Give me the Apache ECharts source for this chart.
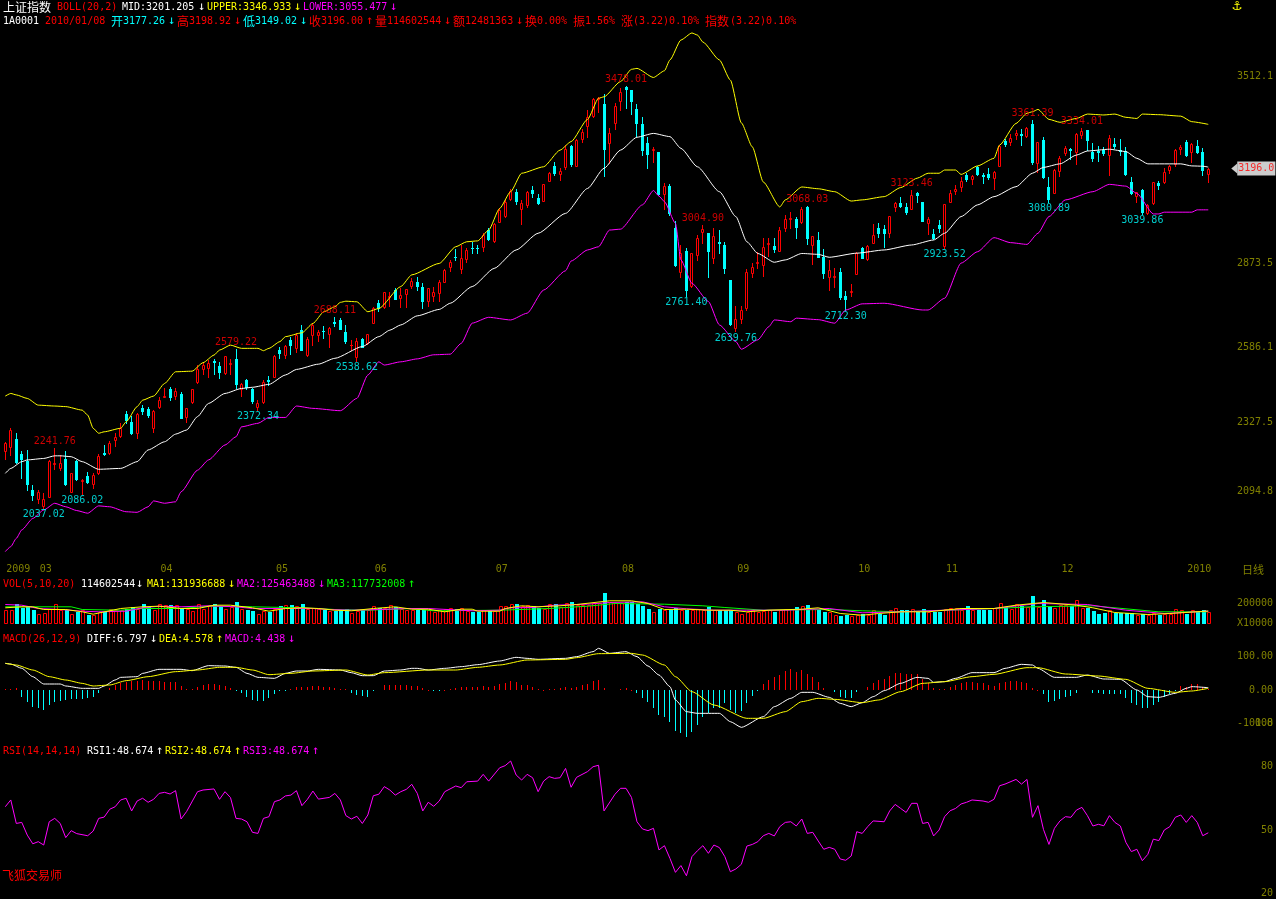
<!DOCTYPE html>
<html><head><meta charset="utf-8">
<style>html,body{margin:0;padding:0;background:#000}#c{width:1276px;height:899px}</style>
<script src="https://cdn.jsdelivr.net/npm/echarts@6/dist/echarts.min.js"></script>
</head><body><div id="c"></div>
<script>
const opens=[2231,2246,2272,2221,2198,2098,2066,2044,2075,2187,2172,2204,2093,2198,2130,2146,2119,2155,2223,2226,
2269,2283,2358,2329,2294,2379,2375,2311,2380,2417,2442,2419,2426,2346,2400,2468,2510,2514,2539,2522,
2499,2528,2544,2443,2474,2442,2380,2400,2473,2485,2576,2559,2610,2582,2644,2559,2627,2627,2642,2631,
2671,2679,2639,2593,2553,2614,2599,2667,2738,2722,2759,2781,2753,2767,2795,2810,2793,2742,2761,2770,
2810,2861,2895,2852,2887,2926,2926,2929,2986,2949,3015,3035,3091,3115,3057,3072,3122,3096,3086,3155,
3206,3177,3202,3273,3206,3297,3342,3375,3434,3415,3282,3353,3428,3473,3464,3398,3348,3282,3259,3252,
3109,3137,2992,2842,2915,2796,2901,2981,2975,2890,2945,2935,2816,2651,2681,2719,2841,2875,2865,2939,
2932,2916,2992,3024,3024,3015,3063,2935,2952,2895,2825,2827,2842,2761,2775,2836,2924,2887,2943,2994,
2990,2975,3064,3077,3064,3057,3111,3082,3009,2973,3003,2933,3083,3119,3132,3174,3160,3200,3174,3177,
3163,3206,3291,3286,3311,3314,3308,3347,3214,3294,3132,3114,3189,3248,3263,3254,3311,3328,3254,3256,
3259,3242,3280,3259,3257,3151,3103,3123,3043,3077,3146,3149,3191,3212,3263,3288,3254,3273,3251,3177.26];
const closes=[2258,2303,2195,2203,2119,2081,2090,2066,2197,2189,2191,2118,2155,2135,2132,2124,2149,2214,2221,2260,
2278,2311,2337,2292,2358,2369,2354,2369,2405,2419,2417,2436,2345,2377,2442,2510,2525,2533,2534,2502,
2556,2533,2460,2459,2451,2402,2397,2466,2470,2556,2565,2590,2593,2627,2578,2614,2661,2639,2640,2650,
2668,2649,2608,2595,2607,2587,2630,2719,2719,2773,2761,2751,2764,2784,2813,2795,2742,2787,2773,2808,
2850,2876,2893,2890,2918,2924,2924,2969,2956,3006,3055,3083,3121,3085,3077,3117,3113,3080,3142,3182,
3182,3188,3263,3212,3294,3322,3371,3432,3436,3263,3316,3410,3459,3466,3428,3353,3259,3246,3262,3108,
3137,3043,2867,2909,2781,2907,2958,2990,2916,2964,2943,2858,2665,2681,2713,2842,2859,2877,2927,2941,
2920,2986,3024,3026,2998,3058,2960,2964,2895,2838,2850,2829,2759,2750,2778,2907,2892,2933,2968,2975,
2975,3034,3080,3068,3047,3105,3106,3018,3024,2958,2992,3074,3114,3126,3155,3159,3172,3176,3171,3168,
3183,3273,3279,3299,3316,3311,3333,3220,3286,3166,3092,3191,3231,3265,3260,3314,3325,3293,3233,3254,
3248,3299,3273,3256,3176,3111,3117,3049,3072,3149,3140,3183,3206,3259,3271,3242,3280,3254,3191,3196];
const lows=[2203,2218,2189,2138,2098,2064,2053,2037.02,2073,2170,2166,2115,2090,2132,2086.02,2121,2106,2152,2218,2221,
2250,2278,2326,2289,2275,2358,2346,2297,2379,2415,2405,2408,2343,2331,2394,2462,2496,2485,2493,2482,
2496,2496,2445,2420,2443,2394,2372.34,2394,2457,2483,2550,2550,2562,2570,2576,2557,2593,2608,2618,2588,
2658,2647,2599,2576,2538.62,2585,2597,2667,2711,2719,2727,2749,2724,2722,2789,2781,2721,2727,2745,2742,
2810,2846,2882,2841,2878,2907,2907,2915,2952,2946,3015,3030,3089,3075,3007,3063,3098,3075,3085,3155,
3174,3157,3193,3205,3205,3288,3303,3373,3390,3172,3214,3331,3396,3402,3382,3307,3242,3199,3220,3106,
3058,3037,2863,2827,2761.4,2793,2882,2943,2824,2872,2909,2841,2662,2639.76,2668,2713,2827,2855,2829,2898,
2912,2915,2984,2994,2958,3009,2938,2870,2895,2821,2781,2793,2750,2712.3,2762,2835,2889,2884,2943,2961,
2929,2961,3052,3064,3041,3057,3083,3017,2973,2955,2980,2923.52,3081,3109,3120,3153,3142,3174,3148,3160,
3126,3206,3273,3276,3296,3276,3303,3212,3185,3163,3080.89,3111,3172,3242,3229,3212,3299,3259,3223,3222,
3242,3174,3265,3242,3174,3109,3083,3039.86,3040,3074,3126,3146,3182,3205,3246,3239,3220,3248,3174,3149.02];
const highs=[2263,2311,2292,2231,2235,2115,2098,2087,2201,2241.76,2218,2231,2157,2201,2136,2161,2157,2221,2252,2267,
2292,2326,2368,2351,2360,2388,2380,2371,2417,2445,2451,2445,2434,2377,2443,2525,2536,2542,2545,2536,
2556,2545,2579.22,2462,2479,2448,2405,2474,2487,2559,2588,2593,2622,2633,2662,2622,2667,2644,2658,2656,
2688.11,2684,2662,2610,2618,2616,2630,2722,2747,2776,2776,2787,2789,2784,2821,2825,2806,2789,2793,2816,
2852,2884,2920,2935,2924,2946,2935,2977,2994,3009,3060,3089,3125,3125,3089,3121,3137,3109,3143,3185,
3217,3197,3277,3277,3297,3331,3396,3436,3441,3451,3333,3419,3470,3478.01,3464,3415,3373,3303,3268,3252,
3146,3143,3017,2935,2924,2909,2969,3004.9,2977,2992,2986,2946,2816,2725,2727,2852,2872,2912,2958,2958,
2958,2995,3037,3047,3032,3063,3068.03,2967,2981,2921,2884,2855,2855,2778,2802,2910,2927,2935,3006,3009,
3003,3035,3083,3100,3080,3123.46,3117,3082,3032,2989,3020,3074,3123,3140,3166,3180,3174,3205,3182,3197,
3188,3276,3296,3313,3328,3330,3337,3361.39,3288,3303,3166,3193,3240,3274,3265,3316,3334.01,3328,3282,3273,
3271,3311,3299,3296,3268,3166,3117,3126,3075,3151,3155,3197,3208,3262,3276,3293,3282,3293,3265,3198.92];
const bollUpper=[[0,2419],[1,2428],[2,2423],[4,2411],[6,2388],[9,2385],[11,2383],[14,2371],[15,2354],[16,2309],[17,2292],[18,2297],[21,2309],[22,2331],[24,2383],[25,2405],[27,2419],[29,2462],[31,2502],[34,2504],[36,2533],[38,2559],[39,2576],[41,2593],[43,2582],[46,2582],[47,2574],[48,2582],[50,2605],[51,2622],[54,2635],[56,2667],[58,2707],[60,2724],[61,2739],[62,2743],[64,2741],[66,2707],[68,2718],[72,2793],[74,2833],[79,2872],[82,2929],[84,2946],[86,2949],[88,2986],[90,3060],[92,3117],[94,3180],[98,3202],[101,3259],[103,3288],[106,3364],[108,3436],[109,3441],[112,3493],[114,3535],[115,3538],[118,3507],[120,3530],[121,3567],[123,3635],[125,3659],[126,3652],[127,3628],[130,3567],[132,3498],[134,3352],[136,3270],[138,3150],[141,3065],[142,3089],[145,3133],[148,3127],[151,3117],[154,3085],[156,3089],[160,3100],[163,3131],[166,3163],[168,3180],[170,3180],[171,3191],[173,3191],[174,3176],[177,3205],[180,3231],[181,3276],[184,3350],[186,3385],[187,3390],[188,3398],[190,3364],[192,3354],[195,3367],[197,3382],[200,3379],[202,3382],[204,3371],[206,3367],[207,3382],[210,3380],[214,3375],[216,3356],[219,3347]];
const bollMid=[[0,2155],[1,2172],[3,2195],[4,2201],[7,2206],[9,2215],[10,2215],[12,2212],[14,2195],[17,2169],[21,2172],[24,2195],[26,2235],[29,2263],[31,2289],[33,2303],[35,2349],[37,2394],[40,2428],[43,2445],[45,2449],[48,2459],[51,2491],[53,2510],[57,2528],[60,2548],[65,2588],[68,2622],[70,2644],[72,2662],[75,2693],[79,2715],[81,2736],[85,2793],[89,2855],[93,2918],[97,2975],[102,3043],[106,3128],[109,3197],[112,3259],[115,3303],[118,3316],[121,3305],[123,3265],[126,3202],[130,3117],[133,3032],[135,2946],[137,2906],[140,2876],[142,2884],[145,2906],[148,2903],[150,2893],[155,2907],[160,2918],[165,2935],[169,2952],[171,2975],[174,3032],[177,3072],[180,3100],[184,3134],[187,3180],[189,3200],[192,3212],[195,3242],[197,3256],[201,3262],[204,3254],[206,3231],[208,3212],[214,3212],[216,3205],[218,3204],[219,3201]];
const bollLower=[[0,1888],[1,1905],[2,1933],[3,1962],[5,2001],[7,2030],[9,2053],[11,2041],[13,2028],[15,2019],[17,2044],[19,2041],[22,2024],[24,2022],[26,2041],[27,2061],[29,2053],[31,2058],[32,2092],[35,2166],[37,2201],[40,2252],[42,2280],[43,2314],[46,2326],[48,2346],[51,2346],[53,2385],[56,2377],[61,2369],[64,2411],[66,2491],[68,2536],[69,2525],[72,2536],[75,2546],[78,2560],[81,2562],[83,2599],[85,2668],[88,2688],[92,2679],[95,2702],[98,2781],[102,2847],[103,2880],[106,2918],[108,2929],[110,2986],[112,2989],[116,3072],[118,3121],[119,3102],[120,3083],[122,3009],[123,2884],[125,2804],[128,2742],[130,2662],[133,2605],[134,2579],[137,2611],[139,2656],[140,2679],[143,2673],[144,2685],[148,2680],[151,2668],[153,2713],[156,2734],[160,2736],[167,2713],[168,2713],[171,2753],[174,2873],[177,2912],[180,2960],[183,2943],[186,2937],[188,2975],[190,3032],[193,3089],[198,3117],[201,3142],[204,3136],[206,3111],[209,3041],[210,3041],[211,3047],[216,3047],[217,3055],[219,3055]];
const highMarks=[9,42,60,113,127,146,165,187,196];
const lowMarks=[7,14,46,64,124,133,153,171,190,207];
const volume=[140,140,200,160,173,133,93,107,150,200,133,133,93,117,133,90,83,117,117,150,133,133,150,167,150,200,167,133,193,190,183,190,150,150,127,200,143,190,200,173,150,163,213,150,133,127,100,127,120,150,173,183,190,173,193,150,153,150,133,130,127,133,150,110,123,133,133,173,160,157,183,167,150,133,133,140,133,133,
117,133,150,160,150,160,127,117,117,133,125,127,173,173,193,193,173,183,173,160,150,200,200,167,210,213,183,183,183,210,210,307,217,207,207,217,217,200,173,143,117,143,140,140,160,133,140,133,150,133,167,140,133,133,133,117,93,117,133,117,123,133,117,133,150,150,167,173,183,150,133,117,117,83,77,90,77,83,
100,83,140,100,83,133,160,140,133,143,117,143,117,117,117,150,160,160,140,173,140,140,133,133,160,210,167,143,193,177,167,273,167,240,167,157,183,183,173,240,157,157,127,100,107,133,107,107,107,107,83,100,83,110,83,100,100,150,133,100,140,117,140,115];
const volMa1=[[0,157],[3,167],[5,167],[7,140],[11,140],[14,117],[16,93],[19,127],[21,150],[25,167],[28,173],[32,150],[35,150],[38,183],[41,183],[45,157],[48,123],[51,150],[54,157],[57,150],[60,133],[63,127],[67,150],[71,167],[74,143],[77,143],[80,117],[83,143],[85,143],[86,123],[90,123],[91,150],[94,177],[97,167],[101,177],[104,190],[110,227],[114,227],[117,200],[120,140],[124,143],[128,133],[132,133],[135,117],[139,133],[145,143],[148,157],[152,100],[156,83],[159,100],[163,117],[168,117],[174,150],[180,150],[184,183],[189,210],[195,183],[198,157],[202,110],[208,90],[212,100],[219,125]];
const volMa2=[[0,190],[3,183],[6,150],[10,140],[14,123],[17,117],[22,123],[25,157],[28,173],[32,167],[37,177],[42,167],[45,150],[51,150],[56,150],[59,140],[63,133],[68,140],[73,150],[77,150],[85,127],[90,133],[92,157],[96,160],[100,183],[106,193],[110,210],[116,217],[120,167],[124,147],[129,133],[135,133],[142,133],[150,150],[156,107],[163,117],[171,133],[180,150],[188,200],[197,190],[204,133],[211,100],[219,123]];
const volMa3=[[0,167],[5,167],[12,167],[14,140],[21,133],[25,150],[32,150],[37,173],[45,167],[54,157],[60,140],[66,133],[74,150],[78,127],[90,133],[99,150],[106,173],[111,200],[120,193],[127,177],[131,160],[138,133],[150,140],[156,127],[163,117],[177,143],[187,167],[198,177],[210,117],[219,117]];
const macdBars=[3,3,5,-20,-35,-50,-55,-60,-45,-35,-32,-30,-28,-28,-28,-25,-22,-10,0,5,15,22,25,27,28,30,28,27,26,25,23,23,12,3,3,10,14,17,18,14,12,6,-3,-10,-20,-30,-33,-33,-25,-13,-2,-1,4,10,10,10,12,12,10,8,6,4,2,-8,-15,-18,-20,-3,0,14,14,14,14,14,13,13,5,1,
-1,-1,1,3,7,10,10,10,10,12,10,12,18,22,27,25,15,15,10,2,1,3,3,5,10,5,10,15,18,27,30,7,0,0,4,6,1,-10,-25,-35,-55,-75,-80,-97,-122,-128,-140,-125,-105,-80,-70,-55,-55,-40,-60,-70,-62,-38,-18,-1,17,30,38,45,57,63,55,60,48,40,25,7,0,-7,-20,-25,-25,-7,
0,10,22,30,33,42,50,52,48,47,47,33,22,5,2,3,10,15,20,24,25,22,20,15,12,20,25,27,27,25,22,6,1,-13,-35,-33,-28,-20,-18,-8,0,0,-8,-10,-12,-12,-12,-13,-23,-38,-45,-53,-55,-45,-35,-22,-12,-2,12,10,17,17,10,4.4];
const macdDiff=[[0,80],[1,78],[3,65],[5,40],[7,18],[10,18],[11,12],[14,5],[17,5],[18,12],[20,30],[21,38],[24,40],[25,50],[28,62],[32,62],[34,58],[37,73],[40,72],[42,68],[44,50],[46,38],[49,35],[51,50],[53,57],[55,57],[57,62],[61,60],[63,52],[65,43],[67,43],[69,57],[72,60],[74,65],[75,65],[77,60],[80,65],[83,70],[86,76],[90,87],[93,98],[95,95],[97,92],[102,95],[104,100],[107,115],[108,125],[110,110],[113,115],[115,100],[117,72],[119,45],[121,10],[122,-30],[124,-65],[126,-70],[130,-70],[132,-95],[134,-112],[138,-80],[140,-50],[143,-25],[145,-7],[147,-7],[150,-22],[152,-40],[154,-50],[156,-38],[158,-20],[160,-2],[163,20],[166,38],[168,35],[169,23],[171,25],[173,35],[176,52],[180,52],[182,65],[185,77],[187,75],[188,65],[191,38],[195,38],[197,45],[200,33],[203,32],[206,0],[208,-20],[210,-22],[213,-10],[215,5],[216,10],[219,7]];
const macdDea=[[0,80],[2,75],[5,60],[8,40],[11,30],[14,20],[16,12],[19,15],[22,28],[26,40],[31,55],[35,60],[39,68],[42,68],[45,60],[48,46],[52,50],[56,57],[62,60],[66,45],[69,52],[77,60],[82,60],[86,68],[90,75],[95,90],[102,92],[104,97],[108,109],[114,110],[116,105],[120,75],[122,40],[125,-5],[129,-45],[135,-85],[138,-85],[142,-65],[145,-35],[148,-25],[151,-28],[156,-38],[159,-30],[163,-5],[167,20],[171,25],[176,40],[180,47],[186,67],[188,67],[193,48],[199,42],[204,32],[208,5],[213,-7],[216,-3],[219,5]];
const rsiLine=[61,64.2,53.1,53.6,47.6,43.5,44.5,42.9,53.9,55.5,53.1,46.4,49.7,48.3,null,47.3,49.5,55.5,56.1,59.8,61,64.2,65,59,63.7,65,63.1,64.5,67.3,67.8,67,68.6,55.2,58.7,null,68.1,68.9,null,69.4,64.5,68.1,65.3,55.5,55.2,53.9,48.9,48.4,55.5,56.3,63.4,64.2,66.1,66.5,68.6,61.5,64.5,68.4,64.6,null,65.4,67.3,64.2,56.8,55.2,56.5,53.1,57.1,66.2,66.9,70.5,68.9,66.5,68.1,69.2,71.6,67.3,59,63.1,61.2,63.7,68.1,null,70.8,70,72.8,null,73.1,76.3,73.1,null,79.4,80.4,82.6,76,73.6,76.3,74.7,68.1,73.1,75.2,74.4,74.7,79.1,70.2,74.9,null,77.6,79.9,80.6,59,null,66.9,69.7,69.7,65.4,53.9,50.5,49.7,50.8,40.6,42.6,36.6,30,33.2,28.4,37.4,40.2,42.6,39,42.9,41.7,37.4,30.3,31.6,33.8,42.4,43.2,44.5,47.3,48.4,47.2,51.6,53.6,53.9,51.9,55.2,48.4,48.9,44.8,40.9,41.8,40.9,36.3,35.7,37.7,49.2,48.4,51.6,54.3,null,53.9,59,62.1,60.2,58.3,62.6,62.6,53.1,53.6,47.2,50,56.3,59.1,60.2,62.3,63.1,64.2,null,63.7,63.1,64.5,70.9,71.7,null,73.9,71.7,73.9,56,61.5,50.3,43.2,50.8,54.3,56.3,56,59.4,60.7,56.8,51.9,52.7,52,56.8,53.6,51.9,44.2,39.8,40.9,35.5,38.5,45.7,45,50,51.6,56,57.1,53.6,56.8,53.6,47.3,48.7];
const tickIdx=[2,7,29,50,68,90,113,134,156,172,193,217];
const tickText=['2009','03','04','05','06','07','08','09','10','11','12','2010'];
const priceTicks=[3512.1,2873.5,2586.1,2327.5,2094.8];
const volTicks=[200,0];
const macdTicks=[100,0,-100];
const rsiTicks=[80,50,20];
const lastPrice=3196;

const RED='#ff0000',CY='#00ffff',OL='#808000',YE='#ffff00',MA='#ff00ff',WH='#ffffff',GR='#00ff00';
const MONO='"DejaVu Sans Mono",monospace',CJK='"Noto Sans CJK SC",sans-serif';
const cats=opens.map((_,i)=>{const k=tickIdx.indexOf(i);return k>=0?tickText[k]:'';});
const G={left:2.55,right:65};
const grids=[{...G,top:30,height:530},{...G,top:590,height:33.5},{...G,top:640,height:100},{...G,top:750,height:145}];
const xAxes=grids.map((_,n)=>({type:'category',gridIndex:n,data:cats,boundaryGap:true,show:n===0,
  axisLine:{show:false},axisTick:{show:false},splitLine:{show:false},
  axisLabel:{show:n===0,interval:(i)=>tickIdx.includes(i),color:OL,fontFamily:MONO,fontSize:10,margin:4,padding:[0,0,0,4],hideOverlap:false}}));
function yAx(n,min,max,vals,fmt){return {type:'value',gridIndex:n,position:'right',min,max,scale:true,
  axisLine:{show:false},axisTick:{show:false},splitLine:{show:false},
  axisLabel:{customValues:vals,formatter:fmt,color:OL,fontFamily:MONO,fontSize:10,align:'right',margin:62}};}
const yAxes=[
 yAx(0,1859.2,3669.15,priceTicks,v=>Number(v).toFixed(1)),
 yAx(1,0,335,volTicks,v=>Number(v)===0?'X10000':String(v*1000)),
 yAx(2,-150,150,macdTicks,v=>Number(v)<0?'-100.0':Number(v).toFixed(2)),
 yAx(3,19.3,87.8,rsiTicks,v=>String(v))
];
function line(x,data,color,z,smooth){return {type:'line',xAxisIndex:x,yAxisIndex:x,data,symbol:'none',smooth:smooth||false,smoothMonotone:smooth?'x':undefined,connectNulls:true,silent:true,animation:false,z:z||3,lineStyle:{color,width:1}};}
function marks(list,src,color,pos){return {type:'scatter',xAxisIndex:0,yAxisIndex:0,symbolSize:1,silent:true,z:4,
  itemStyle:{color:'rgba(0,0,0,0)'},data:list.map(i=>[i,src[i]]),
  label:{show:true,position:pos,distance:1,color,fontFamily:MONO,fontSize:10,formatter:p=>p.value[1].toFixed(2)}};}
const up=i=>closes[i]>=opens[i];
function candle(params,api){
  const i=api.value(0),o=api.value(1),c=api.value(2);
  const pO=api.coord([i,o]),pC=api.coord([i,c]),pL=api.coord([i,api.value(3)]),pH=api.coord([i,api.value(4)]);
  const x=Math.floor(pO[0]),yH=Math.round(pH[1]),yL=Math.round(pL[1]);
  const yT=Math.round(Math.min(pO[1],pC[1])),yB=Math.round(Math.max(pO[1],pC[1]));
  const isUp=c>=o,col=isUp?RED:CY;
  const kids=[{type:'rect',shape:{x,y:yH,width:1,height:Math.max(1,yL-yH+1)},style:{fill:col}}];
  if(yB-yT<1){kids.push({type:'rect',shape:{x:x-1,y:yT,width:3,height:1},style:{fill:col}});}
  else if(isUp){kids.push({type:'rect',shape:{x:x-.5,y:yT+.5,width:2,height:yB-yT},style:{fill:'#000',stroke:RED,lineWidth:1}});}
  else{kids.push({type:'rect',shape:{x:x-1,y:yT,width:3,height:yB-yT+1},style:{fill:CY}});}
  return {type:'group',children:kids};
}
function volBar(params,api){
  const c=api.coord([api.value(0),api.value(1)]),b=api.coord([api.value(0),0]);
  const x=Math.round(c[0])-1,top=Math.round(c[1]),bot=Math.round(b[1]);
  return api.value(2)
   ?{type:'rect',shape:{x:x+.5,y:top+.5,width:3,height:bot-top-1},style:{fill:'#000',stroke:RED,lineWidth:1}}
   :{type:'rect',shape:{x,y:top,width:4,height:bot-top},style:{fill:CY}};
}
function macdBar(params,api){
  const c=api.coord([api.value(0),api.value(1)]),b=api.coord([api.value(0),0]);
  const x=Math.floor(c[0]),y1=Math.round(c[1]),y0=Math.round(b[1]);
  return {type:'rect',shape:{x,y:Math.min(y0,y1),width:1,height:Math.max(1,Math.abs(y0-y1))},style:{fill:api.value(1)>=0?RED:CY}};
}
const series=[
 {type:'custom',name:'K',xAxisIndex:0,yAxisIndex:0,silent:true,z:2,renderItem:candle,encode:{x:0,y:[1,2,3,4]},
  data:opens.map((o,i)=>[i,o,closes[i],lows[i],highs[i]])},
 line(0,bollUpper,YE,3,0.2),line(0,bollMid,WH,3,0.2),line(0,bollLower,MA,3,0.2),
 marks(highMarks,highs,RED,'top'),marks(lowMarks,lows,CY,'bottom'),
 {type:'scatter',xAxisIndex:0,yAxisIndex:0,silent:true,clip:false,z:5,symbol:'triangle',symbolRotate:90,symbolSize:[10,6],symbolOffset:[26,0],
  itemStyle:{color:WH},data:[[219,lastPrice]],
  label:{show:true,position:'right',distance:0,backgroundColor:WH,color:RED,fontFamily:MONO,fontSize:10,padding:[2,1,2,1],formatter:p=>p.value[1].toFixed(1)}},
 {type:'custom',xAxisIndex:1,yAxisIndex:1,silent:true,renderItem:volBar,encode:{x:0,y:1},
  data:volume.map((v,i)=>[i,v,up(i)?1:0])},
 line(1,volMa3,GR),line(1,volMa2,MA),line(1,volMa1,YE),
 {type:'custom',xAxisIndex:2,yAxisIndex:2,silent:true,renderItem:macdBar,encode:{x:0,y:1},
  data:macdBars.map((v,i)=>[i,v]).filter(d=>d[1]!==0)},
 line(2,macdDiff,WH,3,0.2),line(2,macdDea,YE,4,0.2),
 line(3,rsiLine,MA)
];
const T=(text,x,y,fill,cjk,size,align)=>({type:'text',silent:true,z:10,style:{text,x,y,fill,font:(size||(cjk?12:10))+'px '+(cjk?CJK:MONO),textVerticalAlign:'middle',textAlign:align||'left'}});
const graphics=[
 T('上证指数',3,7,WH,true),T('BOLL(20,2)',57,7,RED),T('MID:3201.205',122,7,WH),T('↓',198,7,WH,false,12),
 T('UPPER:3346.933',207,7,YE),T('↓',294,7,YE,false,12),T('LOWER:3055.477',303,7,MA),T('↓',390,7,MA,false,12),
 T('1A0001',3,21,WH),T('2010/01/08',45,21,RED),T('开',111,21,CY,true),T('3177.26',123,21,CY),T('↓',168,21,CY,false,12),
 T('高',177,21,RED,true),T('3198.92',189,21,RED),T('↓',234,21,RED,false,12),T('低',243,21,CY,true),T('3149.02',255,21,CY),T('↓',300,21,CY,false,12),
 T('收',309,21,RED,true),T('3196.00',321,21,RED),T('↑',366,21,RED,false,12),T('量',375,21,RED,true),T('114602544',387,21,RED),T('↓',444,21,RED,false,12),
 T('额',453,21,RED,true),T('12481363',465,21,RED),T('↓',516,21,RED,false,12),T('换',525,21,RED,true),T('0.00%',537,21,RED),
 T('振',573,21,RED,true),T('1.56%',585,21,RED),T('涨',621,21,RED,true),T('(3.22)0.10%',633,21,RED),T('指数',705,21,RED,true),T('(3.22)0.10%',730,21,RED),
 T('⚓',1237,6,YE,false,15,'center'),
 T('日线',1242,570,OL,true,11),
 T('VOL(5,10,20)',3,584,RED),T('114602544',81,584,WH),T('↓',136,584,WH,false,12),T('MA1:131936688',147,584,YE),T('↓',228,584,YE,false,12),
 T('MA2:125463488',237,584,MA),T('↓',318,584,MA,false,12),T('MA3:117732008',327,584,GR),T('↑',408,584,GR,false,12),
 T('MACD(26,12,9)',3,639,RED),T('DIFF:6.797',87,639,WH),T('↓',150,639,WH,false,12),T('DEA:4.578',159,639,YE),T('↑',216,639,YE,false,12),T('MACD:4.438',225,639,MA),T('↓',288,639,MA,false,12),
 T('RSI(14,14,14)',3,751,RED),T('RSI1:48.674',87,751,WH),T('↑',156,751,WH,false,12),T('RSI2:48.674',165,751,YE),T('↑',234,751,YE,false,12),T('RSI3:48.674',243,751,MA),T('↑',312,751,MA,false,12),
 T('108',1273,723,OL,false,10,'right'),
 T('飞狐交易师',2,875,RED,true)
];
const chart=echarts.init(document.getElementById('c'),null,{renderer:'canvas',width:1276,height:899});
chart.setOption({backgroundColor:'#000',animation:false,tooltip:{show:false},grid:grids,xAxis:xAxes,yAxis:yAxes,series,graphic:graphics});
</script></body></html>
